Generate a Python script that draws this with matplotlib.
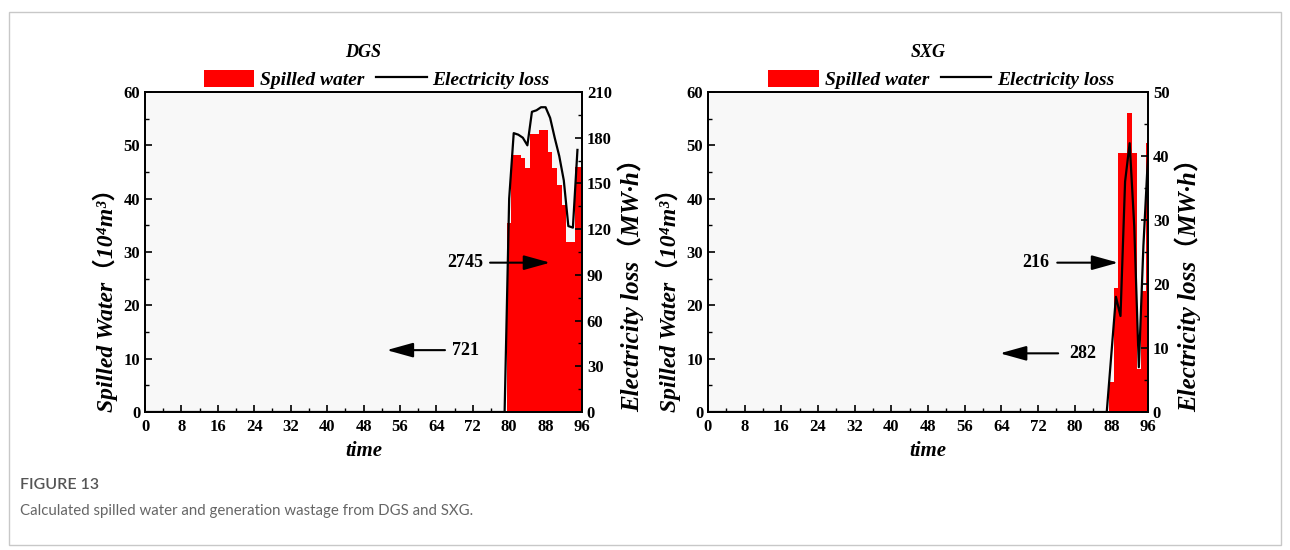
import matplotlib
matplotlib.use("Agg")
import matplotlib.pyplot as plt
from matplotlib.ticker import MultipleLocator
from matplotlib.patches import Rectangle

plt.rcParams['font.family'] = ['Liberation Serif', 'Noto Sans CJK SC', 'DejaVu Sans']

# ---- data ----
stations = ["DGS", "SXG"]

dgs_bar_t = list(range(80, 97))
dgs_spill = [35.4, 48.2, 48.2, 47.6, 45.8, 52.1, 52.1, 52.9, 52.9,
             48.8, 45.8, 42.6, 38.8, 31.9, 31.9, 46.0, 46.0]
dgs_line_t = list(range(0, 96))
dgs_loss = [0] * 79 + [0, 140, 183, 182, 180, 175, 197, 198, 200, 200,
                       193, 180, 168, 152, 122, 121, 172]

sxg_bar_t = list(range(88, 97))
sxg_spill = [5.7, 23.2, 48.5, 48.5, 56.0, 48.5, 8.0, 22.6, 50.5]
sxg_line_t = list(range(0, 97))
sxg_loss = [0] * 88 + [9, 18, 15, 36, 42, 29, 7, 26, 40]

# totals written on the plots (upper: electricity, lower: water)
dgs_notes = ["2745", "721"]
sxg_notes = ["216", "282"]

x_ticks = list(range(0, 97, 8))
right_max = [210, 50]
right_step = [30, 10]

fig = plt.figure(figsize=(12.9, 5.5), dpi=100)

# outer frame of the figure panel
fig.patches.append(Rectangle((9 / 1290, 5 / 550), 1272 / 1290, 533 / 550,
                             transform=fig.transFigure, fill=False,
                             edgecolor='#c8c8c8', lw=1.0))

axes_pos = [[145 / 1290, 138 / 550, 437 / 1290, 320 / 550],
            [708 / 1290, 138 / 550, 440 / 1290, 320 / 550]]

bold_it = dict(fontweight='bold', fontstyle='italic')


def draw(pos, name, bt, spill, lt, loss, notes, rmax, rstep, note_xy):
    ax = fig.add_axes(pos)
    ax.set_facecolor('#f8f8f8')
    ax2 = ax.twinx()
    bars = ax.bar(bt, spill, width=1.0, color='#ff0000', edgecolor='none', zorder=2)
    ln, = ax2.plot(lt, loss, color='black', lw=1.6, zorder=3)

    ax.set_xlim(0, 96)
    ax.set_ylim(0, 60)
    ax2.set_ylim(0, rmax)
    ax.set_xticks(x_ticks)
    ax.xaxis.set_minor_locator(MultipleLocator(4))
    ax.yaxis.set_major_locator(MultipleLocator(10))
    ax.yaxis.set_minor_locator(MultipleLocator(5))
    ax2.yaxis.set_major_locator(MultipleLocator(rstep))
    ax2.yaxis.set_minor_locator(MultipleLocator(rstep / 2))

    for a in (ax, ax2):
        a.tick_params(which='major', direction='in', length=5, width=1.2, labelsize=12)
        a.tick_params(which='minor', direction='in', length=3, width=1.0)
        for lab in a.get_xticklabels() + a.get_yticklabels():
            lab.set_fontweight('bold')
        for s in a.spines.values():
            s.set_linewidth(1.3)
    ax.tick_params(axis='x', pad=5)

    ax.set_xlabel("time", fontsize=15, labelpad=4, **bold_it)
    ax.set_ylabel("Spilled Water（10⁴m³）", fontsize=17, labelpad=4, loc='bottom', **bold_it)
    ax2.set_ylabel("Electricity loss（MW·h）", fontsize=18, labelpad=4, loc='bottom', **bold_it)

    ax.set_title(name, fontsize=13, pad=25, **bold_it)
    ax.legend([bars, ln], ["Spilled water", "Electricity loss"], ncol=2,
              loc='lower center', bbox_to_anchor=(0.53, 0.985), frameon=False,
              prop=dict(family='Liberation Serif', weight='bold', style='italic', size=14),
              handlelength=2.6, handleheight=1.0, columnspacing=0.6, handletextpad=0.3,
              borderaxespad=0)

    (t1, y1, a1, b1), (t2, y2, a2, b2) = note_xy
    arrow = dict(arrowstyle='-|>,head_length=0.9,head_width=0.25', color='black',
                 lw=1.5, mutation_scale=18, shrinkA=0, shrinkB=0)
    ax.text(t1, y1, notes[0], ha='center', va='center', fontsize=13, fontweight='bold', zorder=5)
    ax.annotate('', xy=(b1, y1), xytext=(a1, y1), arrowprops=arrow, zorder=5)
    ax.text(t2, y2, notes[1], ha='center', va='center', fontsize=13, fontweight='bold', zorder=5)
    ax.annotate('', xy=(b2, y2), xytext=(a2, y2), arrowprops=arrow, zorder=5)
    return ax


draw(axes_pos[0], stations[0], dgs_bar_t, dgs_spill, dgs_line_t, dgs_loss, dgs_notes,
     right_max[0], right_step[0],
     [(70.3, 28.0, 75.8, 89.0), (70.3, 11.6, 65.9, 53.1)])
draw(axes_pos[1], stations[1], sxg_bar_t, sxg_spill, sxg_line_t, sxg_loss, sxg_notes,
     right_max[1], right_step[1],
     [(71.6, 28.0, 76.2, 89.5), (81.8, 11.0, 76.4, 63.7)])

cap_font = ['Lato', 'DejaVu Sans']
fig.text(20 / 1290, 1 - 485 / 550, "FIGURE 13", fontsize=11.5, color='#555555',
         family=cap_font, fontweight='semibold', va='center', ha='left')
fig.text(20 / 1290, 1 - 511 / 550,
         "Calculated spilled water and generation wastage from DGS and SXG.",
         fontsize=10.8, color='#666666', family=cap_font, va='center', ha='left')

fig.savefig("out.png", dpi=100)
